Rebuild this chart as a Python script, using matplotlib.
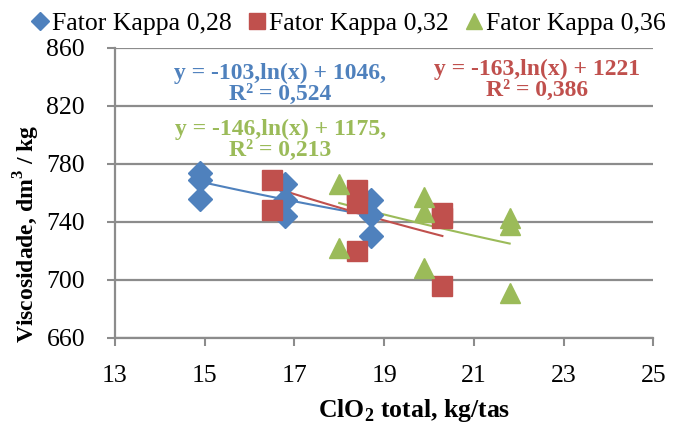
import numpy as np
import matplotlib.pyplot as plt

plt.rcParams['font.family'] = ['Liberation Serif', 'DejaVu Serif']
plt.rcParams['mathtext.fontset'] = 'custom'
plt.rcParams['mathtext.rm'] = 'Liberation Serif'
plt.rcParams['mathtext.bf'] = 'Liberation Serif:bold'

# dióxido de cloro total (kg/tas) e viscosidade (dm3/kg) por fator kappa
x_028 = [14.9, 14.9, 14.9, 16.8, 16.8, 16.8, 18.7, 18.7, 18.7]
y_028 = [774, 769, 756, 766, 755, 744, 755, 745, 730]
x_032 = [16.5, 16.5, 18.4, 18.4, 18.4, 20.3, 20.3, 20.3]
y_032 = [769, 748, 762, 753, 720, 746, 743, 696]
x_036 = [18.0, 18.0, 19.9, 19.9, 19.9, 21.8, 21.8, 21.8]
y_036 = [766, 722, 757, 747, 708, 743, 738, 691]

# coeficientes das linhas de tendência logarítmicas: y = a*ln(x) + b
fit_028 = (-103, 1046, 0.524)
fit_032 = (-163, 1221, 0.386)
fit_036 = (-146, 1175, 0.213)

labels = ['Fator Kappa 0,28', 'Fator Kappa 0,32', 'Fator Kappa 0,36']
colors = ['#4F81BD', '#C0504D', '#9BBB59']
markers = ['D', 's', '^']
sizes = [12, 14.5, 14.5]

fig = plt.figure(figsize=(6.84, 4.32), dpi=100)
ax = fig.add_axes([0.168, 0.218, 0.787, 0.671])

series = [(x_028, y_028, fit_028), (x_032, y_032, fit_032), (x_036, y_036, fit_036)]
for (xs, ys, fit), lab, c, m, s in zip(series, labels, colors, markers, sizes):
    ax.plot(xs, ys, linestyle='none', marker=m, ms=s, color=c, label=lab, zorder=3)
    xx = np.linspace(min(xs), max(xs), 50)
    ax.plot(xx, fit[0] * np.log(xx) + fit[1], color=c, lw=1.5, zorder=2)

ax.set_xlim(13, 25)
ax.set_ylim(660, 860)
ax.set_xticks(range(13, 26, 2))
ax.set_yticks(range(660, 861, 40))
ax.grid(axis='y', color='#8c8c8c', lw=1.6)
ax.set_axisbelow(True)
for side in ['top', 'right']:
    ax.spines[side].set_visible(False)
for side in ['left', 'bottom']:
    ax.spines[side].set_color('#8c8c8c')
    ax.spines[side].set_linewidth(1.6)
ax.tick_params(labelsize=18.5, color='#8c8c8c', width=1.5, length=5.5)
ax.tick_params(axis='y', pad=16)
ax.tick_params(axis='x', pad=14)

ax.set_xlabel('ClO$_\\mathbf{2}$ total, kg/tas', fontsize=18.5, fontweight='bold')
ax.set_ylabel('Viscosidade, dm$^\\mathbf{3}$ / kg', fontsize=17, fontweight='bold')
ax.xaxis.set_label_coords(0.556, -0.205)
ax.yaxis.set_label_coords(-0.136, 0.36)

def eq_text(fit, end=','):
    a, b, r2 = fit
    return 'y = %d,ln(x) + %d%s\nR² = %s' % (a, b, end, ('%.3f' % r2).replace('.', ','))

eq_style = dict(transform=ax.transAxes, ha='center', va='center', ma='center',
                fontsize=17, fontweight='bold', linespacing=1.0)
ax.text(0.307, 0.876, eq_text(fit_028), color=colors[0], **eq_style)
ax.text(0.785, 0.890, eq_text(fit_032, ''), color=colors[1], **eq_style)
ax.text(0.307, 0.684, eq_text(fit_036), color=colors[2], **eq_style)

handles, labs = ax.get_legend_handles_labels()
fig.legend(handles, labs, loc='upper center', bbox_to_anchor=(0.51, 1.025), ncol=3,
           frameon=False, fontsize=18.5, handlelength=0.6, handletextpad=0.15,
           columnspacing=0.7, markerscale=0.8)

fig.savefig('out.png', dpi=100)
